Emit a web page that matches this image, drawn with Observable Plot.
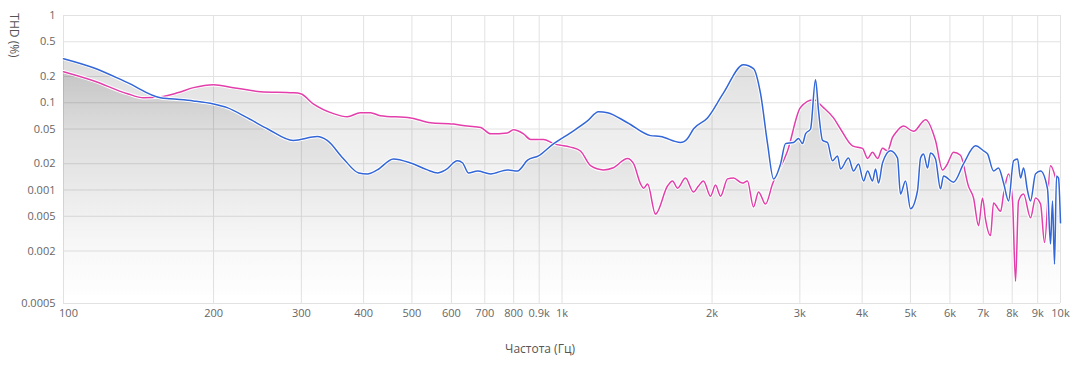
<!DOCTYPE html>
<html>
<head>
<meta charset="utf-8">
<script src="https://cdn.jsdelivr.net/npm/d3@7"></script>
<script src="https://cdn.jsdelivr.net/npm/@observablehq/plot@0.6"></script>
<style>
  html, body { margin: 0; padding: 0; background: #fff; }
  #chart svg { display: block; }
</style>
</head>
<body>
<div id="chart"></div>
<script>
// X axis ticks (Hz) and their labels
const xTicks = [100, 200, 300, 400, 500, 600, 700, 800, 900, 1000, 2000, 3000, 4000, 5000, 6000, 7000, 8000, 9000, 10000];
const xTickLabels = ["100", "200", "300", "400", "500", "600", "700", "800", "0.9k", "1k", "2k", "3k", "4k", "5k", "6k", "7k", "8k", "9k", "10k"];
// Y axis ticks (%) and their labels (as printed on the original)
const yTicks = [1, 0.5, 0.2, 0.1, 0.05, 0.02, 0.01, 0.005, 0.002, 0.0005];
const yTickLabels = ["1", "0.5", "0.2", "0.1", "0.05", "0.02", "0.001", "0.005", "0.002", "0.0005"];

// Blue series
const blueFreq = [100, 114.8, 134.4, 156.5, 163.9, 182.3, 200, 213, 234, 257, 289, 323, 338, 364, 391, 407, 426, 459, 497, 537, 563, 584, 617, 632, 649, 677, 719, 777, 814, 853, 897, 961, 1040, 1125, 1184, 1234, 1353, 1505, 1576, 1729, 1786, 1835, 1958, 2109, 2312, 2422, 2502, 2584, 2657, 2744, 2808, 2914, 2982, 3037, 3080, 3152, 3225, 3271, 3332, 3409, 3488, 3570, 3620, 3756, 3844, 3934, 4026, 4102, 4197, 4256, 4315, 4395, 4560, 4710, 4775, 4888, 5002, 5166, 5239, 5312, 5411, 5486, 5614, 5745, 5826, 6100, 6389, 6754, 7007, 7139, 7340, 7510, 7688, 7867, 8051, 8200, 8314, 8431, 8587, 8707, 8911, 9119, 9417, 9548, 9638, 9727, 9818, 9908, 10000];
const blueTHD = [0.32, 0.252, 0.170, 0.114, 0.111, 0.105, 0.097, 0.088, 0.067, 0.050, 0.037, 0.041, 0.037, 0.023, 0.0157, 0.0153, 0.017, 0.0227, 0.0204, 0.017, 0.0157, 0.017, 0.0216, 0.0204, 0.0157, 0.0165, 0.0153, 0.017, 0.0165, 0.022, 0.0246, 0.0338, 0.0452, 0.062, 0.079, 0.077, 0.059, 0.042, 0.041, 0.035, 0.039, 0.050, 0.067, 0.130, 0.273, 0.246, 0.127, 0.034, 0.0134, 0.0199, 0.034, 0.035, 0.039, 0.034, 0.044, 0.050, 0.184, 0.080, 0.037, 0.035, 0.0216, 0.0246, 0.0174, 0.0233, 0.0165, 0.0199, 0.0127, 0.0165, 0.0127, 0.0174, 0.0120, 0.0204, 0.0281, 0.0233, 0.0090, 0.0127, 0.0061, 0.0098, 0.0233, 0.0259, 0.0179, 0.0266, 0.0227, 0.0103, 0.0145, 0.0123, 0.0199, 0.0321, 0.0281, 0.0259, 0.0165, 0.0179, 0.0120, 0.0075, 0.0216, 0.0227, 0.0137, 0.0179, 0.0098, 0.0075, 0.0153, 0.0165, 0.0103, 0.0024, 0.0075, 0.00141, 0.0145, 0.0137, 0.0042];

// Pink series
const pinkFreq = [100, 114.8, 134.4, 144.7, 156.5, 169.3, 182.3, 200, 219, 248.5, 289, 299, 317, 348, 371, 394, 413, 432, 497, 545, 606, 646, 687, 719, 777, 799, 837, 865, 918, 961, 1040, 1089, 1141, 1211, 1268, 1353, 1392, 1438, 1458, 1485, 1540, 1628, 1666, 1705, 1769, 1835, 1878, 1922, 1986, 2032, 2080, 2148, 2208, 2301, 2355, 2422, 2479, 2560, 2644, 2834, 3009, 3195, 3346, 3505, 3620, 3826, 4007, 4102, 4197, 4296, 4395, 4498, 4603, 4667, 4843, 5072, 5361, 5614, 5799, 5934, 6100, 6300, 6539, 6692, 6848, 6976, 7073, 7238, 7340, 7583, 7688, 7867, 8013, 8125, 8237, 8431, 8707, 8911, 9119, 9289, 9548, 9772, 9954];
const pinkTHD = [0.227, 0.179, 0.127, 0.114, 0.117, 0.130, 0.149, 0.161, 0.149, 0.134, 0.130, 0.127, 0.097, 0.075, 0.069, 0.077, 0.077, 0.071, 0.067, 0.059, 0.057, 0.054, 0.052, 0.044, 0.045, 0.049, 0.044, 0.038, 0.038, 0.034, 0.031, 0.028, 0.019, 0.017, 0.018, 0.023, 0.020, 0.0117, 0.0105, 0.0117, 0.0053, 0.0111, 0.0127, 0.0105, 0.0137, 0.0095, 0.0111, 0.0127, 0.0085, 0.0114, 0.0085, 0.0134, 0.0137, 0.0120, 0.0127, 0.0064, 0.0095, 0.0069, 0.0117, 0.028, 0.088, 0.108, 0.088, 0.067, 0.050, 0.032, 0.030, 0.023, 0.027, 0.023, 0.030, 0.028, 0.040, 0.045, 0.054, 0.047, 0.064, 0.037, 0.017, 0.020, 0.027, 0.025, 0.011, 0.0081, 0.0039, 0.0081, 0.0046, 0.0030, 0.0071, 0.0057, 0.0090, 0.0153, 0.0075, 0.0009, 0.0075, 0.0090, 0.0048, 0.0081, 0.0069, 0.0025, 0.019, 0.0137, 0.0079];

const blueColor = "#3366d6";
const pinkColor = "#e23fab";
const yMin = 0.0005;

const blue = blueFreq.map((f, i) => ({f, v: blueTHD[i]}));
const pink = pinkFreq.map((f, i) => ({f, v: pinkTHD[i]}));

const xLabels = xTicks.map((t, i) => ({t, label: xTickLabels[i]}));
const yLabels = yTicks.map((t, i) => ({t, label: yTickLabels[i]}));

const gradientDefs = (index, scales, values, dims) => {
  const defs = d3.create("svg:defs");
  const lg = defs.append("linearGradient")
    .attr("id", "fadeGray")
    .attr("gradientUnits", "userSpaceOnUse")
    .attr("x1", 0).attr("x2", 0)
    .attr("y1", dims.marginTop)
    .attr("y2", dims.height - dims.marginBottom);
  lg.append("stop").attr("offset", "0").attr("stop-color", "#000").attr("stop-opacity", 0.17);
  lg.append("stop").attr("offset", "0.4").attr("stop-color", "#000").attr("stop-opacity", 0.07);
  lg.append("stop").attr("offset", "0.8").attr("stop-color", "#000").attr("stop-opacity", 0.015);
  lg.append("stop").attr("offset", "1").attr("stop-color", "#000").attr("stop-opacity", 0.0);
  return defs.node();
};

const gridStyle = {stroke: "#e2e2e2", strokeOpacity: 1, strokeWidth: 1};
const labelStyle = {fill: "#666", fontSize: 11};

const chart = Plot.plot({
  width: 1082,
  height: 368,
  marginTop: 15,
  marginBottom: 65,
  marginLeft: 63,
  marginRight: 22,
  style: {fontFamily: "'Open Sans', 'Noto Sans', sans-serif", fontSize: "11px", color: "#666", background: "#fff"},
  x: {type: "log", domain: [100, 10000], axis: null},
  y: {type: "log", domain: [yMin, 1], axis: null},
  marks: [
    gradientDefs,
    Plot.gridX(xTicks, gridStyle),
    Plot.gridY(yTicks, gridStyle),
    Plot.areaY(blue, {x: "f", y1: () => yMin, y2: "v", fill: "url(#fadeGray)", curve: "monotone-x"}),
    Plot.areaY(pink, {x: "f", y1: () => yMin, y2: "v", fill: "url(#fadeGray)", curve: "monotone-x"}),
    Plot.lineY(pink, {x: "f", y: "v", stroke: "#fff", strokeWidth: 3.5, curve: "monotone-x"}),
    Plot.lineY(pink, {x: "f", y: "v", stroke: pinkColor, strokeWidth: 1.5, curve: "monotone-x"}),
    Plot.lineY(blue, {x: "f", y: "v", stroke: "#fff", strokeWidth: 3.5, curve: "monotone-x"}),
    Plot.lineY(blue, {x: "f", y: "v", stroke: blueColor, strokeWidth: 1.5, curve: "monotone-x"}),
    // x tick labels
    Plot.text(xLabels.slice(0, 1), {x: "t", text: "label", frameAnchor: "bottom", dy: 13, dx: 5, ...labelStyle}),
    Plot.text(xLabels.slice(1), {x: "t", text: "label", frameAnchor: "bottom", dy: 13, ...labelStyle}),
    // y tick labels
    Plot.text(yLabels, {y: "t", text: "label", frameAnchor: "left", dx: -8, textAnchor: "end", ...labelStyle}),
    Plot.text(["THD (%)"], {frameAnchor: "top-left", dx: -45, dy: 20, rotate: 90, textAnchor: "middle", fontSize: 12, fill: "#555"}),
    Plot.text(["Частота (Гц)"], {frameAnchor: "bottom", dx: -22, dy: 49, textAnchor: "middle", fontSize: 12, fill: "#555"})
  ]
});

document.getElementById("chart").append(chart);
</script>
</body>
</html>
